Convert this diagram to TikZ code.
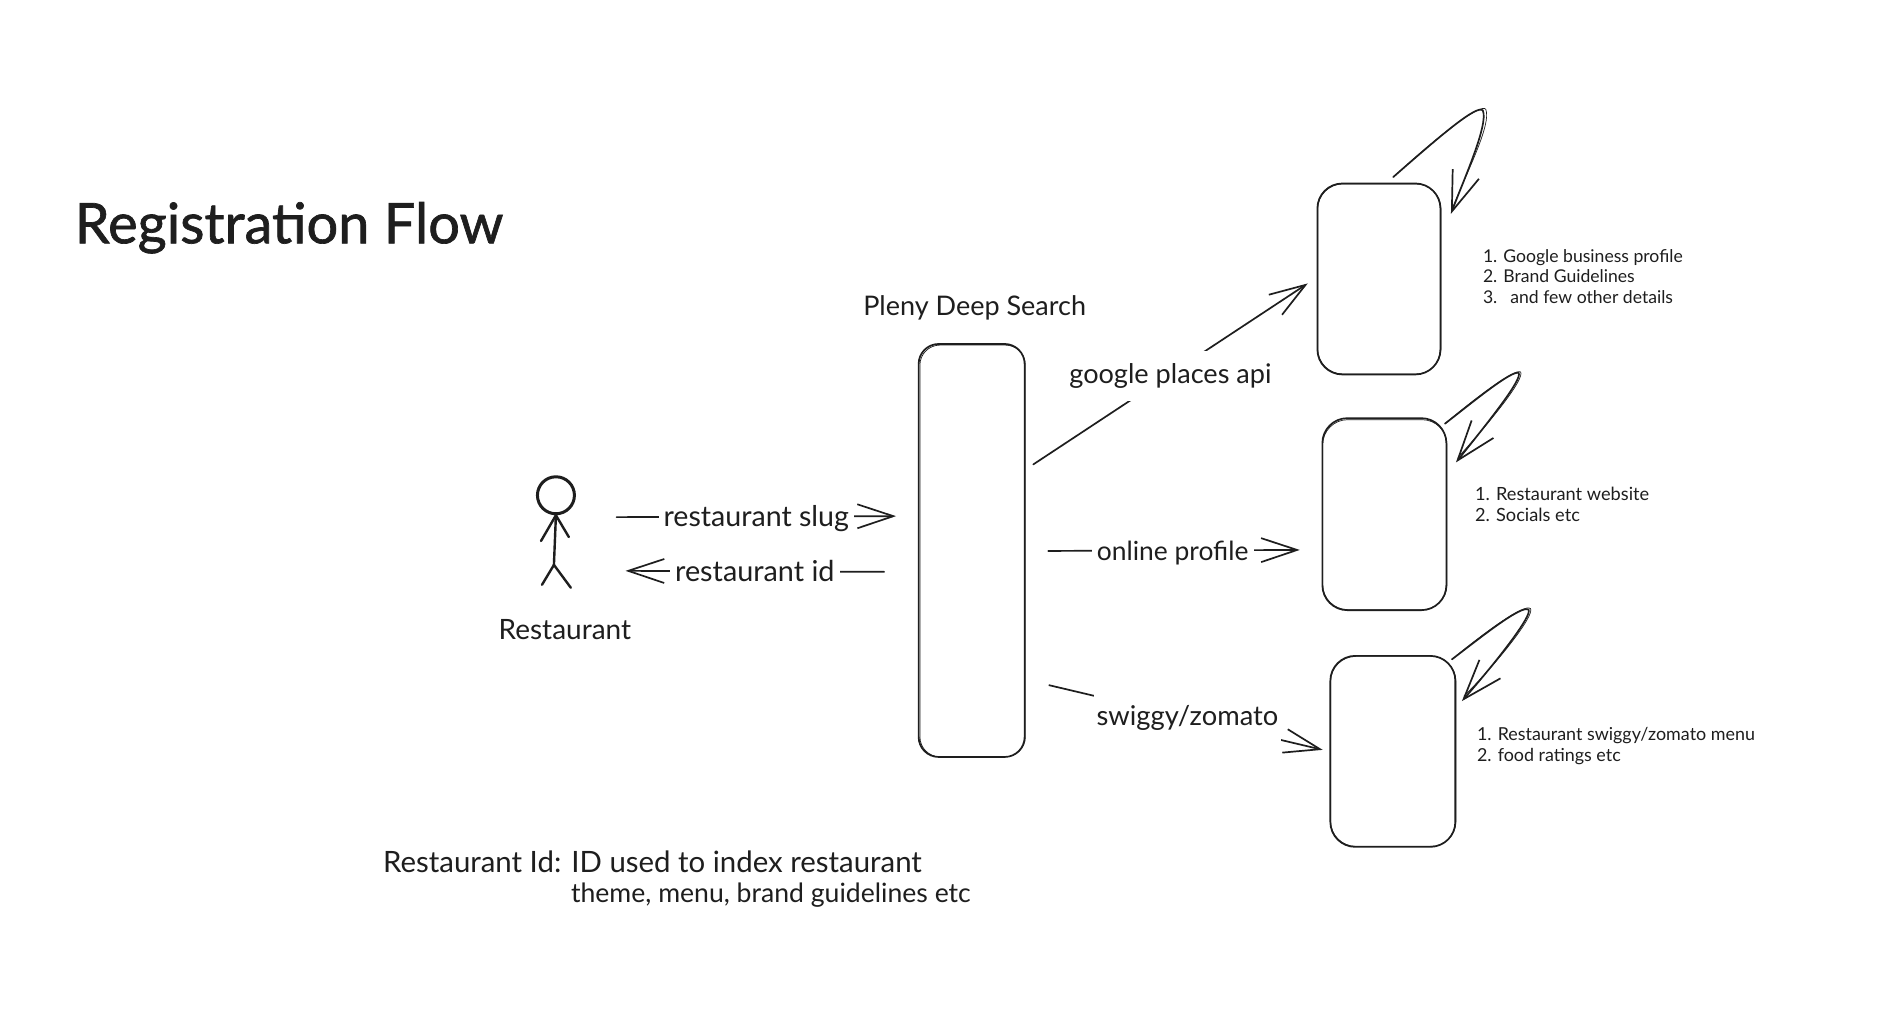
\documentclass[tikz,border=0pt]{standalone}
\usepackage{fontspec}
\setmainfont{Lato}
\usetikzlibrary{arrows.meta}
\definecolor{ink}{HTML}{1E1E1E}
\newcommand{\fs}[1]{\fontsize{#1}{#1}\selectfont}
\tikzset{
  x=1pt,y=-1pt,
  every node/.style={text=ink},
  sketchbox/.style={draw=ink,line width=1.7pt,rounded corners=25pt,inner sep=0pt},
  tracebox/.style={draw=ink,line width=.7pt,rounded corners=25pt},
  link/.style={draw=ink,line width=1.7pt,line cap=round,-{Straight Barb[length=36pt,width=24pt,line width=1.7pt]}},
  loopy/.style={draw=ink,line width=1.7pt,line cap=round,-{Straight Barb[length=40pt,width=28pt,line width=1.7pt]}},
  trace/.style={draw=ink,line width=.7pt,line cap=round},
  limb/.style={draw=ink,line width=2.4pt,line cap=round},
  linklabel/.style={fill=white,inner xsep=5pt,inner ysep=3pt},
  caption/.style={},
  listing/.style={align=left,anchor=west,inner sep=0pt},
}
\begin{document}
\begin{tikzpicture}
\useasboundingbox (0,0) rectangle (1886,1026);
\fill[white] (0,0) rectangle (1886,1026);
\begin{scope}[scale=.9945]

\node[font=\fs{56}\addfontfeature{FakeBold=1.2},anchor=west,inner sep=0pt] (title) at (75,229) {Registration Flow};
\node[caption,font=\fs{27}] (pleny) at (980,310) {Pleny Deep Search};

% boxes
\node[sketchbox,rounded corners=20pt,minimum width=106pt,minimum height=413pt] (deep) at (977,553.5) {};
\node[sketchbox,minimum width=123pt,minimum height=191pt] (b1) at (1386.5,280.5) {};
\node[sketchbox,minimum width=124pt,minimum height=192pt] (b2) at (1392,517) {};
\node[sketchbox,minimum width=125pt,minimum height=191pt] (b3) at (1400.5,755.5) {};
\draw[tracebox,rounded corners=20pt] (925,347) rectangle (1031,761);
\draw[tracebox] (1325,185) rectangle (1449,376);
\draw[tracebox] (1330,422) rectangle (1455,613);
\draw[tracebox] (1338,660) rectangle (1464,851);

% stick figure
\node[draw=ink,line width=3pt,circle,minimum size=37pt,inner sep=0pt] (head) at (559,498) {};
\coordinate (hip) at (557,568);
\coordinate (handl) at (544,544);
\coordinate (handr) at (572,540);
\coordinate (footl) at (545,588);
\coordinate (footr) at (574,591);
\draw[limb] (head.south) -- (hip);
\draw[limb] (head.south) -- (handl);
\draw[limb] (head.south) -- (handr);
\draw[limb] (hip) -- (footl);
\draw[limb] (hip) -- (footr);
\node[caption,font=\fs{28}] (rest) at (568,633) {Restaurant};

% connectors
\coordinate (s1) at (620,520);
\coordinate (e1) at (901,519);
\coordinate (s2) at (889,575);
\coordinate (e2) at (629,574);
\coordinate (s3) at (1039,467);
\coordinate (e3) at (1315,285);
\coordinate (s4) at (1054,554);
\coordinate (e4) at (1307,553);
\coordinate (s5) at (1055,689);
\coordinate (e5) at (1330,754);
\draw[link] (s1) -- (e1) node[linklabel,font=\fs{28.6},pos=.5,yshift=-2.4pt] (l1) {restaurant slug};
\draw[link] (s2) -- (e2) node[linklabel,font=\fs{28.8},pos=.5] (l2) {restaurant id};
\draw[link] (s3) -- (e3) node[linklabel,font=\fs{27.1},pos=.5,yshift=-2.4pt,minimum height=50pt] (l3) {google places api};
\draw[link] (s4) -- (e4) node[linklabel,font=\fs{26.4},pos=.495,yshift=-2.4pt] (l4) {online profile};
\draw[link] (s5) -- (e5) node[linklabel,font=\fs{27.3},pos=.5,minimum height=50pt,inner xsep=3pt,xshift=1.5pt] (l5) {swiggy/zomato};

% self loops
\coordinate (a1) at (1401,178);
\coordinate (c1) at (1459,215);
\coordinate (a2) at (1453,426);
\coordinate (c2) at (1464,465);
\coordinate (a3) at (1460,663);
\coordinate (c3) at (1470,705);
\draw[loopy] (a1) .. controls (1450,135) and (1485,105) .. (1491,111) .. controls (1497,125) and (1472,180) .. (c1);
\draw[trace] (a1) .. controls (1450,133) and (1490,103) .. (1494,110) .. controls (1500,125) and (1474,175) .. (1461,208);
\draw[loopy] (a2) .. controls (1480,405) and (1520,372) .. (1527,375) .. controls (1531,381) and (1500,420) .. (c2);
\draw[trace] (a2) .. controls (1480,403) and (1523,370) .. (1529,374) .. controls (1533,381) and (1502,420) .. (1466,460);
\draw[loopy] (a3) .. controls (1490,640) and (1530,608) .. (1537,613) .. controls (1541,619) and (1505,665) .. (c3);
\draw[trace] (a3) .. controls (1490,638) and (1533,606) .. (1539,612) .. controls (1543,619) and (1507,665) .. (1472,700);

% lists
\node[listing,font=\fontsize{17.6}{20.5}\selectfont] (t1) at (1491,278) {1. Google business profile\\2. Brand Guidelines\\3.\ \ \hspace{4pt}and few other details};
\node[listing,font=\fontsize{18.2}{20.5}\selectfont] (t2) at (1483,507) {1. Restaurant website\\2. Socials etc};
\node[listing,font=\fontsize{17.9}{20.5}\selectfont] (t3) at (1485,750) {1. Restaurant swiggy/zomato menu\\2. food ratings etc};

% note
\node[caption,anchor=west,inner sep=0pt,font=\fs{29.4}] (n1) at (385,867) {Restaurant Id: ID used to index restaurant};
\node[caption,anchor=west,inner sep=0pt,font=\fs{26.6}] (n2) at (574,900) {theme, menu, brand guidelines etc};
\end{scope}
\end{tikzpicture}
\end{document}
